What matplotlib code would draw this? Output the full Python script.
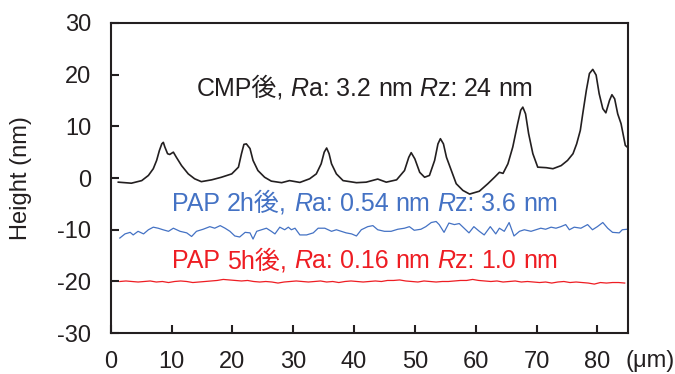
import matplotlib
matplotlib.use("Agg")
import matplotlib.pyplot as plt
from matplotlib.offsetbox import TextArea, HPacker, AnnotationBbox

plt.rcParams['font.family'] = ['Liberation Sans', 'Noto Sans CJK JP']
plt.rcParams['axes.unicode_minus'] = False

# ---------------- data ----------------
cmp_x = [1.25, 3.4, 5.1, 6.2, 7.0, 7.55, 8.0, 8.4, 8.65, 8.9, 9.35, 9.7, 10.3, 10.8, 11.65,
         12.75, 13.8, 14.9, 16.6, 18.2, 19.9, 21.0, 21.5, 21.9, 22.3, 22.9, 23.4, 24.2, 25.3,
         26.4, 28.1, 29.4, 31.1, 32.7, 33.8, 34.6, 35.1, 35.5, 35.9, 36.3, 37.1, 38.2, 40.4,
         42.0, 43.9, 45.3, 47.0, 48.3, 49.0, 49.4, 50.0, 50.8, 51.6, 52.4, 53.25, 53.8, 54.2,
         54.7, 55.2, 56.0, 56.8, 57.9, 59.0, 60.6, 62.0, 63.1, 63.9, 64.5, 65.3, 66.1, 66.9,
         67.4, 67.75, 68.2, 68.7, 69.4, 70.2, 71.6, 72.7, 74.05, 75.1, 76.0, 76.6, 77.2, 77.6,
         78.2, 78.7, 79.25, 79.8, 80.3, 80.9, 81.4, 82.0, 82.4, 82.85, 83.35, 83.9, 84.6, 85.0]
cmp_y = [-0.8, -1.0, -0.5, 0.5, 1.8, 3.4, 5.3, 6.6, 6.9, 6.0, 4.7, 4.55, 5.0, 4.0, 2.4,
         0.8, -0.15, -0.7, -0.35, 0.15, 0.8, 2.1, 4.7, 6.5, 6.6, 5.7, 3.4, 1.45, 0.15,
         -0.6, -0.9, -0.5, -0.85, -0.15, 0.8, 2.75, 5.0, 5.8, 4.7, 2.75, 0.8, -0.5, -0.9,
         -0.8, -0.2, -0.8, -0.35, 1.45, 4.0, 4.9, 3.7, 1.1, 0.15, 0.5, 3.4, 6.6, 7.6,
         6.6, 4.0, 1.45, -1.1, -2.4, -3.1, -2.55, -1.1, 0.15, 1.1, 0.9, 2.75, 6.0, 10.5,
         13.1, 13.7, 12.4, 8.6, 4.7, 2.1, 2.0, 1.8, 2.4, 3.4, 4.7, 6.6, 9.2, 12.4,
         17.0, 20.2, 21.0, 19.9, 16.3, 13.4, 12.6, 15.0, 16.1, 15.3, 12.4, 10.5, 6.3, 5.9]

pap2_x = [1.5, 2.35, 3.2, 3.7, 4.5, 5.4, 6.2, 7.0, 7.8, 8.6, 9.5, 10.3, 11.4, 12.5, 13.3, 14.1,
          15.2, 16.3, 17.1, 18.0, 18.8, 19.6, 20.4, 21.2, 22.1, 22.9, 23.4, 24.0, 24.8, 25.6,
          26.4, 27.0, 27.8, 28.6, 29.2, 29.7, 30.3, 31.1, 32.2, 33.3, 34.1, 35.2, 36.3, 37.1,
          37.9, 38.7, 39.6, 40.4, 41.2, 42.25, 43.1, 43.9, 45.0, 46.1, 47.2, 48.3, 49.1, 49.9,
          51.0, 51.8, 52.7, 53.5, 54.0, 54.8, 55.6, 56.5, 57.3, 58.1, 58.9, 59.7, 60.6, 61.4,
          62.4, 63.3, 63.9, 64.7, 65.5, 66.3, 67.2, 68.0, 69.1, 69.9, 70.7, 71.5, 72.4, 73.2,
          74.0, 74.8, 75.4, 76.2, 77.3, 78.4, 79.2, 80.0, 80.9, 81.7, 82.5, 83.6, 84.1, 84.9]
pap2_y = [-11.6, -10.8, -10.5, -11.0, -10.3, -10.8, -10.0, -9.5, -9.7, -10.0, -10.3, -9.7,
          -10.3, -10.6, -11.3, -10.3, -9.9, -9.4, -9.7, -9.2, -9.7, -10.3, -11.2, -11.4,
          -10.5, -10.6, -11.8, -10.3, -10.0, -9.7, -10.3, -10.8, -9.5, -10.0, -9.5, -10.0,
          -9.7, -11.0, -11.0, -10.6, -9.7, -9.7, -10.3, -10.0, -10.3, -10.6, -10.8, -11.2,
          -10.0, -9.4, -9.2, -10.0, -10.3, -10.3, -9.9, -9.7, -9.4, -10.1, -9.9, -9.4,
          -8.6, -8.4, -9.0, -10.5, -8.7, -9.0, -8.8, -9.7, -10.6, -9.4, -10.3, -11.0,
          -9.4, -10.8, -9.7, -10.3, -8.6, -11.2, -10.3, -10.0, -10.3, -10.0, -9.7, -9.9,
          -9.5, -9.7, -9.4, -9.0, -10.0, -9.5, -9.7, -9.0, -10.0, -9.4, -8.6, -9.7,
          -10.5, -10.6, -10.0, -9.9]

pap5_x = [1.5, 2.5, 3.5, 4.5, 5.5, 6.5, 7.5, 8.5, 9.5, 10.5, 11.5, 12.5, 13.5, 14.5, 15.5,
          16.5, 17.5, 18.5, 19.5, 20.5, 21.5, 22.5, 23.5, 24.5, 25.5, 26.5, 27.5, 28.5, 29.5,
          30.5, 31.5, 32.5, 33.5, 34.5, 35.5, 36.5, 37.5, 38.5, 39.5, 40.5, 41.5, 42.5, 43.5,
          44.5, 45.5, 46.5, 47.5, 48.5, 49.5, 50.5, 51.5, 52.5, 53.5, 54.5, 55.5, 56.5, 57.5,
          58.5, 59.5, 60.5, 61.5, 62.5, 63.5, 64.5, 65.5, 66.5, 67.5, 68.5, 69.5, 70.5, 71.5,
          72.5, 73.5, 74.5, 75.5, 76.5, 77.5, 78.5, 79.5, 80.5, 81.5, 82.5, 83.5, 84.5]
pap5_y = [-20.0, -19.9, -20.0, -20.1, -20.0, -19.9, -20.1, -20.0, -20.2, -20.0, -19.9, -20.0,
          -20.2, -20.1, -20.0, -19.9, -19.8, -19.6, -19.7, -19.8, -19.9, -19.8, -20.0, -20.1,
          -20.0, -20.1, -20.3, -20.1, -20.0, -19.9, -20.0, -20.1, -20.0, -19.9, -20.1, -20.0,
          -20.2, -20.0, -19.9, -20.0, -20.1, -20.0, -19.9, -20.0, -19.8, -19.8, -19.7, -19.9,
          -20.0, -20.1, -19.9, -20.0, -20.1, -20.0, -20.0, -19.9, -19.8, -19.8, -19.6, -19.8,
          -19.9, -20.0, -19.9, -20.1, -20.0, -19.9, -20.1, -20.0, -20.1, -20.2, -20.1, -20.3,
          -20.1, -20.0, -20.2, -20.1, -20.2, -20.3, -20.5, -20.2, -20.3, -20.2, -20.2, -20.3]

x_ticks = [0, 10, 20, 30, 40, 50, 60, 70, 80]
y_ticks = [-30, -20, -10, 0, 10, 20, 30]
y_label = "Height (nm)"
x_unit = "(μm)"

# label pieces: groups separated by a space; (text, italic)
cmp_label = [[("CMP後,", False)], [("R", True), ("a:", False)], [("3.2", False)], [("nm", False)],
             [("R", True), ("z:", False)], [("24", False)], [("nm", False)]]
pap2_label = [[("PAP", False)], [("2h後,", False)], [("R", True), ("a:", False)], [("0.54", False)],
              [("nm", False)], [("R", True), ("z:", False)], [("3.6", False)], [("nm", False)]]
pap5_label = [[("PAP", False)], [("5h後,", False)], [("R", True), ("a:", False)], [("0.16", False)],
              [("nm", False)], [("R", True), ("z:", False)], [("1.0", False)], [("nm", False)]]

# ---------------- style ----------------
FS = 17
FS_ANN = 18
FAM = ['Liberation Sans', 'Noto Sans CJK JP']
DARK = '#231f20'
BLUE = '#4472C4'
RED = '#EE1D23'

fig = plt.figure(figsize=(6.75, 3.74), dpi=100)
ax = fig.add_axes([0.164, 0.109, 0.766, 0.830])

ax.plot(cmp_x, cmp_y, color=DARK, lw=1.2)
ax.plot(pap2_x, pap2_y, color=BLUE, lw=0.9)
ax.plot(pap5_x, pap5_y, color=RED, lw=0.9)

ax.set_xlim(0, 85)
ax.set_ylim(-30, 30)
ax.set_xticks(x_ticks)
ax.set_yticks(y_ticks)
ax.tick_params(direction='in', length=6, width=1.5, colors=DARK, labelsize=FS)
ax.tick_params(axis='y', pad=14)
ax.tick_params(axis='x', pad=13)
for s in ax.spines.values():
    s.set_linewidth(1.5)
    s.set_color(DARK)

ax.set_ylabel(y_label, fontsize=FS, color=DARK)
ax.yaxis.set_label_coords(-0.152, 0.5)

fig.text(650 / 675, 1 - 361 / 374, x_unit, fontsize=FS, color=DARK, ha='center', va='center')


def rich(groups_spec, color, x, y):
    groups = []
    for grp in groups_spec:
        kids = [TextArea(t, textprops=dict(color=color, fontsize=FS_ANN, family=FAM,
                                            style=('italic' if it else 'normal')))
                for t, it in grp]
        groups.append(HPacker(children=kids, align='baseline', pad=0, sep=0))
    box = HPacker(children=groups, align='baseline', pad=0, sep=5.0)
    ab = AnnotationBbox(box, (x, y), xycoords='data', frameon=False,
                        box_alignment=(0.5, 0.5), pad=0)
    ax.add_artist(ab)


rich(cmp_label, DARK, 41.8, 17.3)
rich(pap2_label, BLUE, 41.8, -4.9)
rich(pap5_label, RED, 41.8, -16.0)

fig.savefig("out.png", dpi=100)
